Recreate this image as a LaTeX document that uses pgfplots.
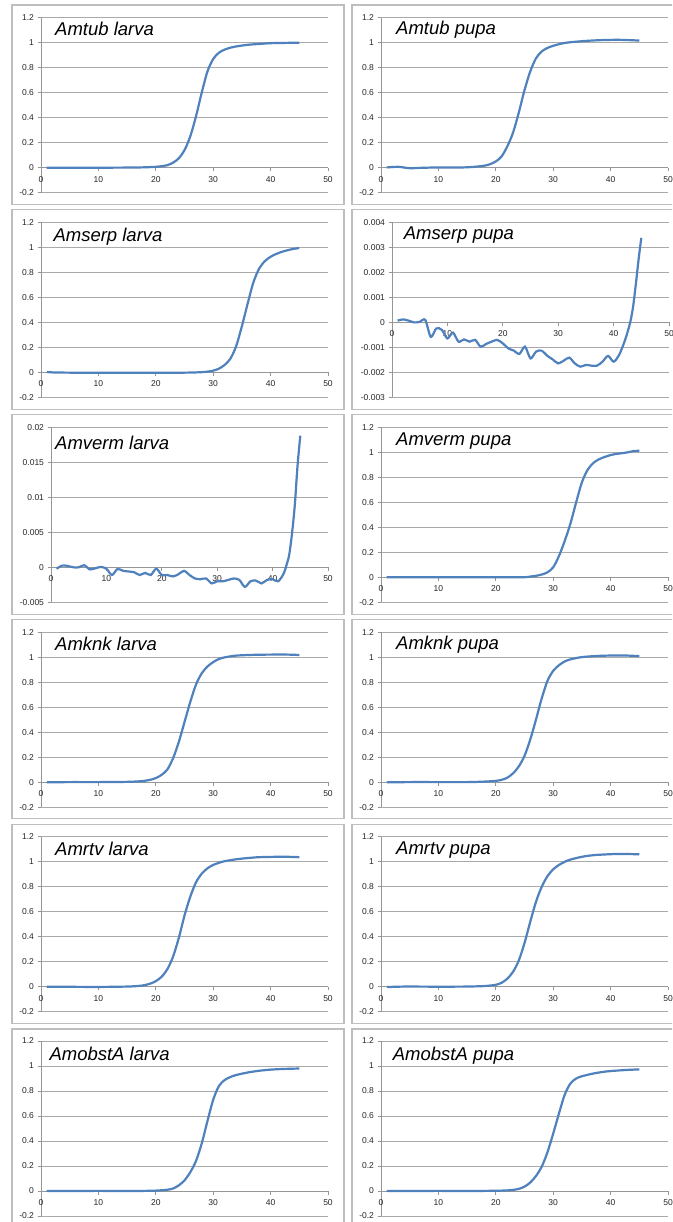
\documentclass[border=0pt]{standalone}
\usepackage{pgfplots}
\pgfplotsset{compat=1.18}
\usepackage{fontspec}
\setmainfont{Liberation Sans}
\definecolor{lineblue}{RGB}{79,129,189}
\definecolor{gridgray}{RGB}{170,170,170}
\definecolor{axisgray}{RGB}{150,150,150}
\definecolor{boxgray}{RGB}{190,190,190}
\pgfplotsset{
  panel/.style={
    scale only axis, xmin=0, xmax=50, enlargelimits=false,
    axis x line=middle, axis y line=left,
    axis line style={-, draw=axisgray, line width=0.8pt},
    xtick={0,10,20,30,40,50}, tick align=outside, major tick length=3.5pt,
    tick style={draw=axisgray, line width=0.8pt},
    ymajorgrids, grid style={draw=gridgray, line width=0.8pt},
    ticklabel style={font=\fontsize{8.5}{9}\selectfont, text=black!85},
    /pgf/number format/assume math mode=true,
    scaled y ticks=false, scaled x ticks=false,
    yticklabel style={/pgf/number format/fixed, /pgf/number format/precision=3},
    xticklabel style={yshift=-1.5pt},
    hide obscured x ticks=false,
    anchor=south west,
  },
  std/.style={panel, ymin=-0.2, ymax=1.2, ytick={-0.2,0,0.2,0.4,0.6,0.8,1,1.2}},
  curve/.style={line width=2.2pt, color=lineblue, smooth, no markers},
}
\newcommand{\ttl}[3]{\node[anchor=base west, inner sep=0pt, font=\fontsize{18.5}{20}\selectfont\itshape] at (#1pt,-#2pt) {#3};}
\begin{document}
\begin{tikzpicture}
\useasboundingbox (0,0) rectangle (672pt,-1222pt);
\fill[white] (0,0) rectangle (672pt,-1222pt);
\begin{scope}
\clip (0,0) rectangle (672pt,-1222pt);
% boxes
\foreach \t in {5,209.8,414.6,619.4,824.2,1029}{
  \draw[boxgray, line width=1.1pt] (12pt,-\t pt) rectangle (344pt,-\t pt-199.5pt);
  \draw[boxgray, line width=1.1pt] (352pt,-\t pt) rectangle (690pt,-\t pt-199.5pt);
}
% Row 1
\begin{axis}[std, at={(41pt,-192.7pt)}, width=287pt, height=175pt]
\addplot[curve] coordinates {(1,0) (5,0) (10,0) (15,0.001) (18,0.003) (20,0.007) (21,0.012) (22,0.02) (23,0.04) (24,0.075) (25,0.14) (26,0.25) (27,0.41) (28,0.6) (29,0.77) (30,0.87) (31,0.92) (32,0.945) (33,0.96) (34,0.97) (36,0.983) (38,0.99) (40,0.996) (42,0.998) (45,1.0)};
\end{axis}
\begin{axis}[std, at={(381pt,-192.7pt)}, width=287pt, height=175pt]
\addplot[curve] coordinates {(1,0.002) (3,0.007) (5,-0.004) (7,-0.001) (10,0.002) (14,0.002) (16,0.006) (18,0.016) (19,0.028) (20,0.05) (21,0.09) (22,0.17) (23,0.28) (24,0.44) (25,0.62) (26,0.77) (27,0.875) (28,0.93) (29,0.958) (30,0.975) (32,0.998) (35,1.012) (38,1.02) (41,1.023) (43,1.021) (45,1.017)};
\end{axis}
% Row 2
\begin{axis}[std, at={(41pt,-397.4pt)}, width=287pt, height=175pt]
\addplot[curve] coordinates {(1,0.004) (2,0) (5,-0.002) (10,-0.003) (15,-0.003) (20,-0.003) (25,-0.002) (27,0) (28,0.002) (29,0.006) (30,0.014) (31,0.03) (32,0.06) (33,0.11) (34,0.21) (35,0.37) (36,0.55) (37,0.72) (38,0.83) (39,0.89) (40,0.925) (41,0.948) (42,0.965) (43,0.978) (44,0.988) (45,0.995)};
\end{axis}
\begin{axis}[panel, at={(392pt,-397.4pt)}, width=277pt, height=175pt, ymin=-0.003, ymax=0.004, ytick={-0.003,-0.002,-0.001,0,0.001,0.002,0.003,0.004}]
\addplot[curve] coordinates {(1,0.00007) (2,0.00012) (3,0.00007) (4,0) (5,0.00002) (6,0.0001) (7,-0.00058) (8,-0.00024) (9,-0.0003) (10,-0.00064) (11,-0.00041) (12,-0.00077) (13,-0.00068) (14,-0.00077) (15,-0.0007) (16,-0.00097) (17,-0.00086) (18,-0.00077) (19,-0.0007) (20,-0.00084) (21,-0.00104) (22,-0.00113) (23,-0.00126) (24,-0.00097) (25,-0.00144) (26,-0.00117) (27,-0.00113) (28,-0.00133) (29,-0.00148) (30,-0.00164) (31,-0.00153) (32,-0.00141) (33,-0.00164) (34,-0.00177) (35,-0.0017) (36,-0.00173) (37,-0.00173) (38,-0.00157) (39,-0.00134) (40,-0.00157) (41,-0.0013) (42,-0.00075) (42.5,-0.0004) (43,0) (43.5,0.0006) (44,0.0015) (44.5,0.0025) (45,0.00338)};
\end{axis}
% Row 3
\begin{axis}[panel, at={(51pt,-602.3pt)}, width=277pt, height=175pt, ymin=-0.005, ymax=0.02, ytick={-0.005,0,0.005,0.01,0.015,0.02}]
\addplot[curve] coordinates {(1,-0.0002) (2,0.00024) (3,0.0002) (4,0) (5,0) (6,0.0003) (7,-0.0003) (8,-0.00014) (9,0.00005) (10,-0.0002) (11,-0.0011) (12,-0.00024) (13,-0.0005) (14,-0.0006) (15,-0.0007) (16,-0.0011) (17,-0.0008) (18,-0.0011) (19,-0.0002) (20,-0.0011) (21,-0.0011) (22,-0.0013) (23,-0.001) (24,-0.0005) (25,-0.0011) (26,-0.0016) (27,-0.0017) (28,-0.0016) (29,-0.0023) (30,-0.002) (31,-0.002) (32,-0.0018) (33,-0.0016) (34,-0.0018) (35,-0.0028) (36,-0.002) (37,-0.0019) (38,-0.0023) (39,-0.0018) (40,-0.0017) (41,-0.002) (42,-0.0009) (42.5,0.0003) (43,0.0018) (43.5,0.0048) (44,0.0088) (44.5,0.0145) (45,0.0188)};
\end{axis}
\begin{axis}[std, at={(381pt,-602.3pt)}, width=287pt, height=175pt]
\addplot[curve] coordinates {(1,0) (10,0) (20,0) (25,0.001) (26,0.006) (27,0.012) (28,0.022) (29,0.04) (30,0.08) (31,0.17) (32,0.29) (33,0.43) (34,0.6) (35,0.76) (36,0.86) (37,0.915) (38,0.945) (39,0.963) (40,0.978) (41,0.987) (42,0.993) (43,1.0) (44,1.01) (45,1.012)};
\end{axis}
% Row 4
\begin{axis}[std, at={(41pt,-807.1pt)}, width=287pt, height=175pt]
\addplot[curve] coordinates {(1,-0.002) (5,0) (10,0) (15,0.002) (17,0.006) (18,0.01) (19,0.018) (20,0.032) (21,0.058) (22,0.1) (23,0.19) (24,0.32) (25,0.48) (26,0.64) (27,0.78) (28,0.87) (29,0.925) (30,0.96) (31,0.985) (32,0.998) (34,1.012) (37,1.018) (40,1.02) (43,1.02) (45,1.017)};
\end{axis}
\begin{axis}[std, at={(381pt,-807.1pt)}, width=287pt, height=175pt]
\addplot[curve] coordinates {(1,-0.002) (5,0) (10,0) (15,0) (18,0.004) (20,0.01) (21,0.018) (22,0.035) (23,0.07) (24,0.125) (25,0.21) (26,0.34) (27,0.5) (28,0.67) (29,0.81) (30,0.89) (31,0.935) (32,0.965) (33,0.982) (35,1.0) (38,1.01) (41,1.013) (43,1.012) (45,1.008)};
\end{axis}
% Row 5
\begin{axis}[std, at={(41pt,-1011.8pt)}, width=287pt, height=175pt]
\addplot[curve] coordinates {(1,0.001) (5,0) (10,-0.001) (15,0.002) (17,0.007) (18,0.013) (19,0.025) (20,0.045) (21,0.08) (22,0.14) (23,0.24) (24,0.39) (25,0.57) (26,0.72) (27,0.835) (28,0.905) (29,0.948) (30,0.975) (31,0.992) (32,1.005) (34,1.02) (36,1.03) (38,1.037) (41,1.04) (43,1.04) (45,1.037)};
\end{axis}
\begin{axis}[std, at={(381pt,-1011.8pt)}, width=287pt, height=175pt]
\addplot[curve] coordinates {(1,-0.002) (3,0.001) (5,0.002) (10,0.001) (15,0.002) (18,0.006) (19,0.01) (20,0.016) (21,0.032) (22,0.065) (23,0.12) (24,0.21) (25,0.35) (26,0.52) (27,0.68) (28,0.8) (29,0.885) (30,0.94) (31,0.975) (32,1.0) (33,1.018) (35,1.04) (37,1.053) (40,1.061) (42,1.063) (45,1.06)};
\end{axis}
% Row 6
\begin{axis}[std, at={(41pt,-1216pt)}, width=287pt, height=175pt]
\addplot[curve] coordinates {(1,0.001) (5,0) (10,0.001) (15,0) (18,0.001) (20,0.003) (21,0.006) (22,0.01) (23,0.02) (24,0.045) (25,0.085) (26,0.15) (27,0.24) (28,0.38) (29,0.56) (30,0.73) (31,0.84) (32,0.888) (33,0.912) (34,0.928) (36,0.948) (38,0.962) (40,0.971) (42,0.976) (45,0.98)};
\end{axis}
\begin{axis}[std, at={(381pt,-1216pt)}, width=287pt, height=175pt]
\addplot[curve] coordinates {(1,0.001) (5,0) (10,0.001) (15,0) (20,0.002) (22,0.005) (23,0.009) (24,0.017) (25,0.035) (26,0.068) (27,0.12) (28,0.195) (29,0.31) (30,0.46) (31,0.62) (32,0.77) (33,0.86) (34,0.9) (35,0.918) (37,0.94) (39,0.955) (41,0.963) (43,0.969) (45,0.973)};
\end{axis}
% titles
\ttl{55}{36}{Amtub larva}
\ttl{396}{35}{Amtub pupa}
\ttl{53.3}{241.7}{Amserp larva}
\ttl{403.7}{239.3}{Amserp pupa}
\ttl{55}{449.3}{Amverm larva}
\ttl{396}{445}{Amverm pupa}
\ttl{55}{650}{Amknk larva}
\ttl{396}{649.3}{Amknk pupa}
\ttl{55}{855}{Amrtv larva}
\ttl{396}{854}{Amrtv pupa}
\ttl{49.3}{1060.7}{AmobstA larva}
\ttl{392.7}{1060.7}{AmobstA pupa}
\end{scope}
\end{tikzpicture}
\end{document}
